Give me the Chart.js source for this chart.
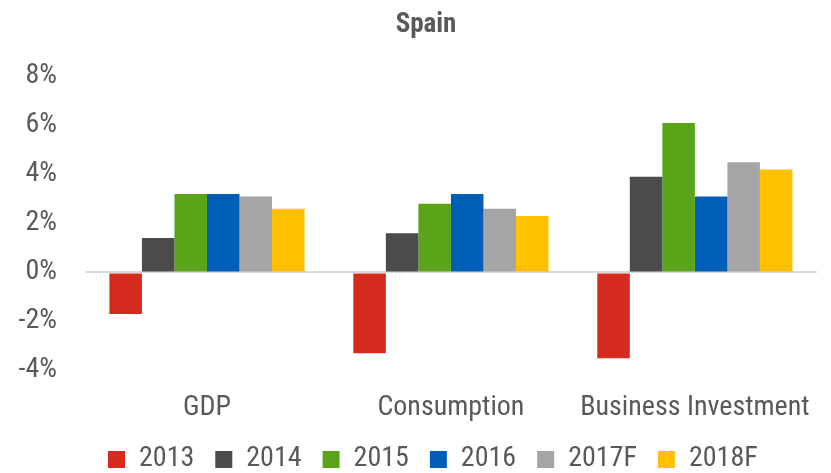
<!DOCTYPE html>
<html>
<head>
<meta charset="utf-8">
<title>Spain</title>
<script src="https://cdn.jsdelivr.net/npm/chart.js@4"></script>
<style>
  html, body { margin: 0; padding: 0; background: #fff; }
  #wrap { width: 831px; height: 473px; position: relative; }
</style>
</head>
<body>
<div id="wrap"><canvas id="grafico"></canvas></div>
<script>
// categorias y series (variacion anual, %)
const categorias = ['GDP', 'Consumption', 'Business Investment'];
const anios = ['2013', '2014', '2015', '2016', '2017F', '2018F'];
const colores = ['#D52B1E', '#4B4B4B', '#5AA41A', '#005EB8', '#A5A5A5', '#FFC000'];

const serie2013 = [-1.7, -3.3, -3.5];
const serie2014 = [1.4, 1.6, 3.9];
const serie2015 = [3.2, 2.8, 6.1];
const serie2016 = [3.2, 3.2, 3.1];
const serie2017F = [3.1, 2.6, 4.5];
const serie2018F = [2.6, 2.3, 4.2];

const ticksY = [-4, -2, 0, 2, 4, 6, 8];

const series = [serie2013, serie2014, serie2015, serie2016, serie2017F, serie2018F];

const FUENTE = "'Roboto Condensed', 'Liberation Sans', sans-serif";
const GRIS_TEXTO = '#595959';

// leyenda arrancando a la izquierda y bajo las etiquetas del eje x;
// titulo corrido un poco a la derecha (centrado sobre el area de barras)
const ajustarCajas = {
  id: 'ajustarCajas',
  beforeDraw(chart) {
    if (chart.legend) {
      chart.legend.left = 87;
      chart.legend.top = chart.chartArea.bottom + 54;
    }
    if (chart.titleBlock) {
      chart.titleBlock.left = 24;
    }
  }
};

new Chart(document.getElementById('grafico'), {
  type: 'bar',
  data: {
    labels: categorias,
    datasets: series.map((datos, i) => ({
      label: anios[i],
      data: datos,
      backgroundColor: colores[i],
      borderWidth: 0,
      barPercentage: 1,
      categoryPercentage: 0.8
    }))
  },
  plugins: [ajustarCajas],
  options: {
    responsive: true,
    maintainAspectRatio: false,
    animation: false,
    layout: { padding: { left: 0, right: 3, top: 0, bottom: -32 } },
    plugins: {
      title: {
        display: true,
        text: 'Spain',
        color: GRIS_TEXTO,
        font: { family: FUENTE, size: 27, weight: 'bold' },
        padding: { top: 9, bottom: 35 }
      },
      legend: {
        position: 'bottom',
        align: 'start',
        labels: {
          color: GRIS_TEXTO,
          font: { family: FUENTE, size: 28 },
          boxWidth: 17,
          boxHeight: 17,
          padding: 21
        }
      },
      tooltip: { enabled: false }
    },
    scales: {
      x: {
        grid: { display: false, drawTicks: false },
        border: { display: false },
        ticks: {
          color: GRIS_TEXTO,
          font: { family: FUENTE, size: 28 },
          padding: 21,
          maxRotation: 0
        }
      },
      y: {
        min: -4,
        max: 8,
        afterBuildTicks: (eje) => { eje.ticks = ticksY.map(v => ({ value: v })); },
        afterFit: (eje) => { eje.width = 85; },
        border: { display: false },
        grid: {
          color: (ctx) => ctx.tick && ctx.tick.value === 0 ? '#D9D9D9' : 'rgba(0,0,0,0)',
          lineWidth: 2,
          drawTicks: false
        },
        ticks: {
          color: GRIS_TEXTO,
          font: { family: FUENTE, size: 28 },
          padding: 28,
          callback: (v) => v + '%'
        }
      }
    }
  }
});
</script>
</body>
</html>
